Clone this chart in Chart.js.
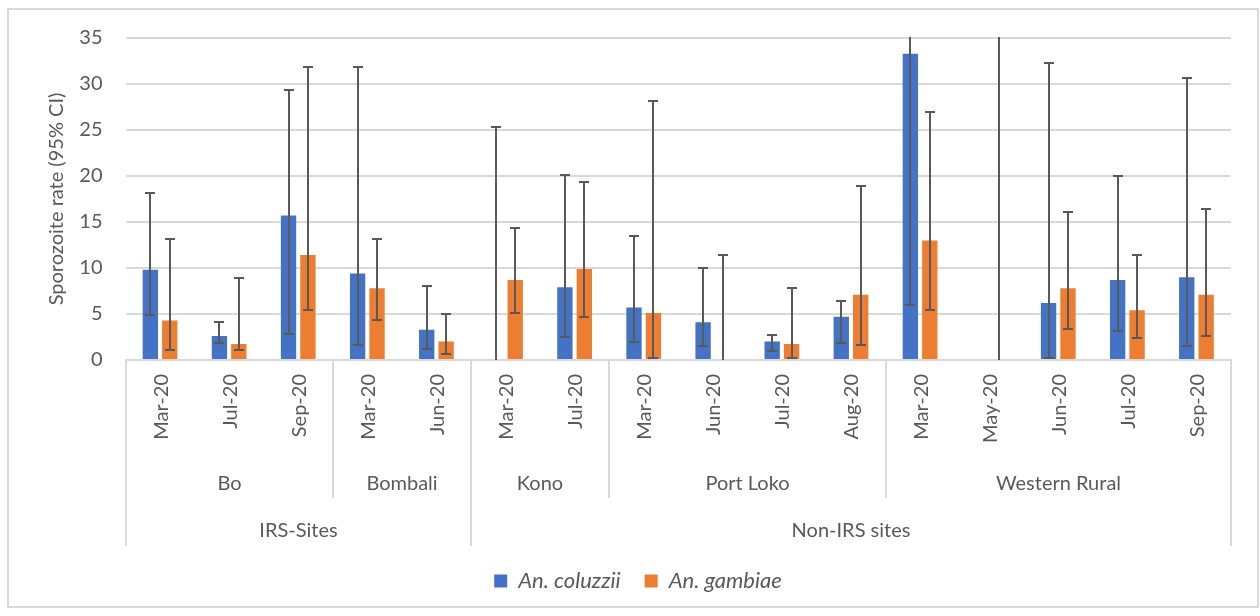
<!DOCTYPE html>
<html>
<head>
<meta charset="utf-8">
<script src="https://cdn.jsdelivr.net/npm/chart.js@4.4.1/dist/chart.umd.min.js"></script>
<style>
  html, body { margin: 0; padding: 0; background: #fff; }
  #wrap { width: 1260px; height: 616px; position: relative; }
</style>
</head>
<body>
<div id="wrap"><canvas id="chart"></canvas></div>
<script>
// Sampling months, grouped by district and by intervention status
const months = ['Mar-20', 'Jul-20', 'Sep-20', 'Mar-20', 'Jun-20', 'Mar-20', 'Jul-20',
                'Mar-20', 'Jun-20', 'Jul-20', 'Aug-20', 'Mar-20', 'May-20', 'Jun-20', 'Jul-20', 'Sep-20'];
const districts = ['Bo', 'Bombali', 'Kono', 'Port Loko', 'Western Rural'];
const districtMonthCounts = [3, 2, 2, 4, 5];
const siteGroups = ['IRS-Sites', 'Non-IRS sites'];
const siteGroupMonthCounts = [5, 11];

// Sporozoite rate (%) with 95% confidence limits
const coluzziiRate  = [9.8, 2.6, 15.7, 9.4, 3.3, 0, 7.9, 5.7, 4.1, 2.0, 4.7, 33.3, null, 6.2, 8.7, 9.0];
const coluzziiLower = [4.85, 1.8, 2.8, 1.6, 1.2, 0, 2.45, 2.0, 1.5, 0.95, 1.9, 6.0, null, 0.2, 3.1, 1.5];
const coluzziiUpper = [18.2, 4.1, 29.4, 31.8, 8.0, 25.3, 20.1, 13.5, 10.0, 2.7, 6.4, 79.2, null, 32.3, 20.0, 30.6];

const gambiaeRate  = [4.3, 1.75, 11.4, 7.8, 2.0, 8.7, 9.9, 5.1, 0, 1.75, 7.1, 13.0, 0, 7.8, 5.4, 7.1];
const gambiaeLower = [1.05, 1.05, 5.4, 4.4, 0.65, 5.1, 4.7, 0.2, 0, 0.2, 1.65, 5.4, 0, 3.4, 2.35, 2.65];
const gambiaeUpper = [13.1, 8.9, 31.8, 13.1, 5.0, 14.35, 19.3, 28.1, 11.45, 7.8, 18.9, 27.0, 43.4, 16.05, 11.45, 16.45];

const yTicks = { min: 0, max: 35, step: 5 };

const FONT = 'Lato, "Noto Sans", sans-serif';
const TEXT = '#595959';
const RULE = '#d9d9d9';

// White page, light frame around the whole chart
const frame = {
  id: 'frame',
  beforeDraw(chart) {
    const { ctx, width, height } = chart;
    ctx.save();
    ctx.fillStyle = '#fff';
    ctx.fillRect(0, 0, width, height);
    ctx.restore();
  },
  afterDraw(chart) {
    const { ctx } = chart;
    ctx.save();
    ctx.strokeStyle = RULE;
    ctx.lineWidth = 2;
    ctx.strokeRect(8, 9, 1250, 598);
    ctx.restore();
  }
};

// Confidence-interval whiskers on every bar
const errorBars = {
  id: 'errorBars',
  afterDatasetsDraw(chart) {
    const { ctx, chartArea, scales: { y } } = chart;
    ctx.save();
    ctx.beginPath();
    ctx.rect(chartArea.left, chartArea.top - 1, chartArea.right - chartArea.left, chartArea.bottom - chartArea.top + 1);
    ctx.clip();
    ctx.strokeStyle = '#595959';
    ctx.lineWidth = 2;
    chart.data.datasets.forEach((ds, di) => {
      const meta = chart.getDatasetMeta(di);
      meta.data.forEach((bar, i) => {
        const lo = ds.lower[i], hi = ds.upper[i];
        if (lo == null || hi == null) return;
        const x = Math.round(bar.x);
        const yHi = y.getPixelForValue(hi);
        const yLo = y.getPixelForValue(lo);
        ctx.beginPath();
        ctx.moveTo(x, yLo);
        ctx.lineTo(x, yHi);
        if (hi <= y.max) {
          ctx.moveTo(x - 5, Math.round(yHi));
          ctx.lineTo(x + 5, Math.round(yHi));
        }
        if (lo > 0) {
          ctx.moveTo(x - 5, Math.round(yLo));
          ctx.lineTo(x + 5, Math.round(yLo));
        }
        ctx.stroke();
      });
    });
    ctx.restore();
  }
};

// Three-level category axis: month, district, site group
const categoryLevels = {
  id: 'categoryLevels',
  afterDraw(chart) {
    const { ctx, scales: { x } } = chart;
    const n = months.length;
    const step = (x.right - x.left) / n;
    const top = x.top;
    const edge = k => Math.round(x.left + k * step);
    ctx.save();
    ctx.fillStyle = TEXT;
    ctx.font = `20px ${FONT}`;

    months.forEach((m, i) => {
      ctx.save();
      ctx.translate(x.getPixelForValue(i) + 1, top + 14);
      ctx.rotate(-Math.PI / 2);
      ctx.textAlign = 'right';
      ctx.textBaseline = 'middle';
      ctx.fillText(m, 0, 0);
      ctx.restore();
    });

    ctx.textAlign = 'center';
    ctx.textBaseline = 'middle';
    ctx.strokeStyle = RULE;
    ctx.lineWidth = 2;

    let k = 0;
    districts.forEach((d, j) => {
      const k2 = k + districtMonthCounts[j];
      ctx.fillText(d, (edge(k) + edge(k2)) / 2, top + 124);
      k = k2;
    });
    k = 0;
    siteGroups.forEach((g, j) => {
      const k2 = k + siteGroupMonthCounts[j];
      ctx.fillText(g, (edge(k) + edge(k2)) / 2, top + 171);
      k = k2;
    });

    // separators: district boundaries are short, group boundaries run to the bottom row
    const groupEdges = new Set([0]);
    k = 0;
    siteGroupMonthCounts.forEach(c => { k += c; groupEdges.add(k); });
    const districtEdges = new Set([0]);
    k = 0;
    districtMonthCounts.forEach(c => { k += c; districtEdges.add(k); });
    ctx.beginPath();
    districtEdges.forEach(e => {
      const len = groupEdges.has(e) ? 186 : 138;
      ctx.moveTo(edge(e), top);
      ctx.lineTo(edge(e), top + len);
    });
    ctx.stroke();
    ctx.restore();
  }
};

new Chart(document.getElementById('chart'), {
  type: 'bar',
  data: {
    labels: months,
    datasets: [
      {
        label: 'An. coluzzii',
        data: coluzziiRate,
        lower: coluzziiLower,
        upper: coluzziiUpper,
        backgroundColor: '#4472C4',
        borderWidth: 0,
        categoryPercentage: 0.562,
        barPercentage: 0.79
      },
      {
        label: 'An. gambiae',
        data: gambiaeRate,
        lower: gambiaeLower,
        upper: gambiaeUpper,
        backgroundColor: '#ED7D31',
        borderWidth: 0,
        categoryPercentage: 0.562,
        barPercentage: 0.79
      }
    ]
  },
  options: {
    responsive: true,
    maintainAspectRatio: false,
    animation: false,
    events: [],
    layout: { padding: { top: 38, left: 45, right: 29, bottom: 14 } },
    plugins: {
      tooltip: { enabled: false },
      legend: {
        position: 'bottom',
        labels: {
          boxWidth: 13,
          boxHeight: 13,
          padding: 24,
          color: TEXT,
          font: { family: FONT, size: 22, style: 'italic' }
        }
      }
    },
    scales: {
      x: {
        type: 'category',
        grid: { display: false },
        border: { display: true, color: RULE, width: 2 },
        ticks: { display: false },
        afterFit(scale) { scale.height = 186; }
      },
      y: {
        min: yTicks.min,
        max: yTicks.max,
        ticks: {
          stepSize: yTicks.step,
          color: TEXT,
          padding: 23,
          font: { family: FONT, size: 20 }
        },
        grid: { color: RULE, lineWidth: 2, drawTicks: false },
        border: { display: false },
        title: {
          display: true,
          text: 'Sporozoite rate (95% CI)',
          color: TEXT,
          padding: { top: 0, bottom: 0 },
          font: { family: FONT, size: 20 }
        },
        afterFit(scale) { scale.width = 80.5; }
      }
    }
  },
  plugins: [frame, errorBars, categoryLevels]
});
</script>
</body>
</html>
